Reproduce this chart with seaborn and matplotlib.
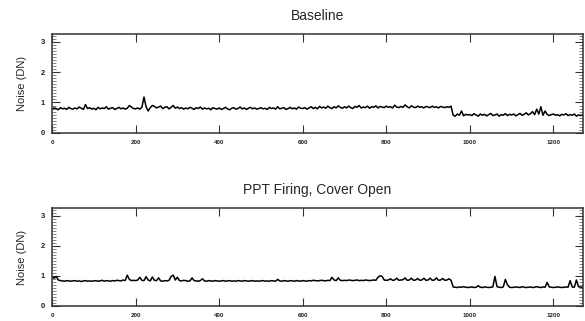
import numpy as np
import pandas as pd
import seaborn as sns
import matplotlib.pyplot as plt
from matplotlib.ticker import MultipleLocator

# sample positions, one reading every 5 frames (0 .. 1270)
frames = list(range(0, 1275, 5))

# Noise (DN)
baseline_noise = [
    0.78, 0.82, 0.80, 0.76, 0.83, 0.79, 0.81, 0.77, 0.84, 0.80, 0.78, 0.82, 0.79, 0.85, 0.81, 0.77, 0.93, 0.80, 0.83, 0.78,
    0.81, 0.76, 0.84, 0.79, 0.82, 0.80, 0.86, 0.78, 0.81, 0.83, 0.77, 0.80, 0.84, 0.79, 0.82, 0.78, 0.81, 0.90, 0.85, 0.80,
    0.79, 0.82, 0.78, 0.84, 1.18, 0.86, 0.72, 0.83, 0.90, 0.87, 0.82, 0.85, 0.88, 0.80, 0.84, 0.86, 0.79, 0.84, 0.90, 0.81,
    0.85, 0.80, 0.83, 0.78, 0.82, 0.79, 0.84, 0.81, 0.77, 0.83, 0.80, 0.85, 0.78, 0.82, 0.79, 0.81, 0.76, 0.83, 0.80, 0.78,
    0.82, 0.77, 0.80, 0.84, 0.79, 0.76, 0.81, 0.83, 0.78, 0.80, 0.85, 0.79, 0.82, 0.77, 0.81, 0.84, 0.79, 0.82, 0.78, 0.80,
    0.83, 0.79, 0.81, 0.77, 0.84, 0.80, 0.82, 0.78, 0.86, 0.79, 0.81, 0.83, 0.77, 0.80, 0.84, 0.79, 0.82, 0.78, 0.85, 0.81,
    0.80, 0.83, 0.78, 0.82, 0.86, 0.80, 0.84, 0.79, 0.87, 0.82, 0.85, 0.81, 0.88, 0.83, 0.80, 0.86, 0.82, 0.89, 0.84, 0.81,
    0.86, 0.82, 0.88, 0.83, 0.80, 0.87, 0.84, 0.90, 0.82, 0.85, 0.83, 0.88, 0.81, 0.86, 0.84, 0.89, 0.82, 0.87, 0.85, 0.83,
    0.88, 0.84, 0.86, 0.82, 0.91, 0.85, 0.83, 0.87, 0.84, 0.92, 0.86, 0.82, 0.89, 0.85, 0.83, 0.88, 0.84, 0.86, 0.82, 0.87,
    0.85, 0.83, 0.88, 0.84, 0.86, 0.82, 0.87, 0.85, 0.83, 0.86, 0.84, 0.88, 0.58, 0.55, 0.62, 0.58, 0.72, 0.56, 0.61, 0.59,
    0.60, 0.57, 0.63, 0.59, 0.55, 0.62, 0.58, 0.61, 0.56, 0.60, 0.64, 0.57, 0.59, 0.62, 0.55, 0.60, 0.58, 0.63, 0.57, 0.61,
    0.59, 0.62, 0.56, 0.60, 0.64, 0.58, 0.61, 0.66, 0.59, 0.63, 0.70, 0.60, 0.78, 0.62, 0.86, 0.58, 0.72, 0.61, 0.57, 0.60,
    0.62, 0.58, 0.60, 0.56, 0.61, 0.59, 0.63, 0.57, 0.60, 0.58, 0.62, 0.55, 0.59, 0.57, 0.60,
]

# Noise (DN)
firing_noise = [
    0.96, 0.92, 0.98, 0.86, 0.84, 0.83, 0.82, 0.84, 0.83, 0.82, 0.83, 0.84, 0.82, 0.83, 0.81, 0.83, 0.84, 0.82, 0.83, 0.82,
    0.83, 0.84, 0.82, 0.83, 0.85, 0.82, 0.84, 0.83, 0.82, 0.84, 0.83, 0.85, 0.84, 0.83, 0.86, 0.84, 1.02, 0.88, 0.84, 0.85,
    0.84, 0.86, 0.95, 0.85, 0.84, 0.97, 0.86, 0.83, 0.96, 0.85, 0.84, 0.93, 0.83, 0.82, 0.84, 0.83, 0.85, 0.98, 1.02, 0.86,
    0.95, 0.84, 0.83, 0.85, 0.84, 0.82, 0.83, 0.93, 0.84, 0.83, 0.82, 0.84, 0.90, 0.83, 0.82, 0.84, 0.83, 0.82, 0.84, 0.83,
    0.82, 0.83, 0.84, 0.82, 0.83, 0.84, 0.82, 0.83, 0.82, 0.84, 0.83, 0.82, 0.84, 0.83, 0.82, 0.83, 0.84, 0.82, 0.83, 0.82,
    0.83, 0.84, 0.82, 0.83, 0.82, 0.84, 0.83, 0.82, 0.88, 0.83, 0.82, 0.84, 0.83, 0.82, 0.84, 0.83, 0.82, 0.84, 0.83, 0.82,
    0.84, 0.83, 0.82, 0.84, 0.83, 0.85, 0.84, 0.83, 0.84, 0.85, 0.84, 0.83, 0.85, 0.84, 0.95, 0.86, 0.84, 0.93, 0.85, 0.84,
    0.85, 0.84, 0.86, 0.85, 0.84, 0.85, 0.86, 0.84, 0.85, 0.84, 0.86, 0.85, 0.84, 0.85, 0.86, 0.85, 0.95, 1.00, 0.98, 0.86,
    0.85, 0.86, 0.90, 0.85, 0.86, 0.92, 0.85, 0.86, 0.87, 0.93, 0.85, 0.86, 0.92, 0.85, 0.86, 0.91, 0.85, 0.86, 0.92, 0.85,
    0.86, 0.92, 0.85, 0.86, 0.93, 0.85, 0.86, 0.91, 0.85, 0.86, 0.90, 0.85, 0.63, 0.62, 0.61, 0.63, 0.62, 0.64, 0.62, 0.61,
    0.62, 0.63, 0.61, 0.62, 0.67, 0.62, 0.61, 0.63, 0.62, 0.61, 0.62, 0.63, 0.98, 0.64, 0.62, 0.61, 0.63, 0.88, 0.70, 0.62,
    0.61, 0.62, 0.63, 0.62, 0.61, 0.64, 0.62, 0.61, 0.62, 0.63, 0.61, 0.62, 0.64, 0.62, 0.61, 0.63, 0.62, 0.78, 0.63, 0.62,
    0.61, 0.62, 0.63, 0.62, 0.61, 0.62, 0.63, 0.62, 0.84, 0.63, 0.62, 0.86, 0.64, 0.62, 0.63,
]

titles = ["Baseline", "PPT Firing, Cover Open"]
x_ticks = [0, 200, 400, 600, 800, 1000, 1200]
y_ticks = [0, 1, 2, 3]

sns.set_style("ticks")
plt.rcParams['font.family'] = ['Liberation Sans', 'DejaVu Sans']

fig = plt.figure(figsize=(5.85, 3.21), dpi=100)
ax_top = fig.add_axes([0.089, 0.586, 0.907, 0.308])
ax_bot = fig.add_axes([0.089, 0.047, 0.907, 0.305])

for ax, noise, title in zip([ax_top, ax_bot], [baseline_noise, firing_noise], titles):
    df = pd.DataFrame({"Frame": frames, "Noise": noise})
    sns.lineplot(data=df, x="Frame", y="Noise", ax=ax, color="black", linewidth=1.1)
    ax.set_xlim(0, 1270)
    ax.set_ylim(0, 3.25)
    ax.set_xticks(x_ticks)
    ax.set_yticks(y_ticks)
    ax.set_xticklabels([str(t) for t in x_ticks], fontsize=4.5, fontweight="bold", color="#222222")
    ax.set_yticklabels([str(t) for t in y_ticks], fontsize=5.5, fontweight="bold", color="#222222")
    ax.yaxis.set_minor_locator(MultipleLocator(0.1))
    ax.tick_params(which="major", direction="in", top=True, right=True, length=6, width=0.8, pad=5, color="#333333")
    ax.tick_params(which="minor", direction="in", top=False, right=True, length=3, width=0.5, color="#555555")
    for s in ax.spines.values():
        s.set_linewidth(1.1)
        s.set_color("#333333")
    ax.set_title(title, fontsize=10, pad=10)
    ax.set_xlabel("")
    ax.set_ylabel("Noise (DN)", fontsize=8, labelpad=10)

fig.savefig("out.png", dpi=100)
